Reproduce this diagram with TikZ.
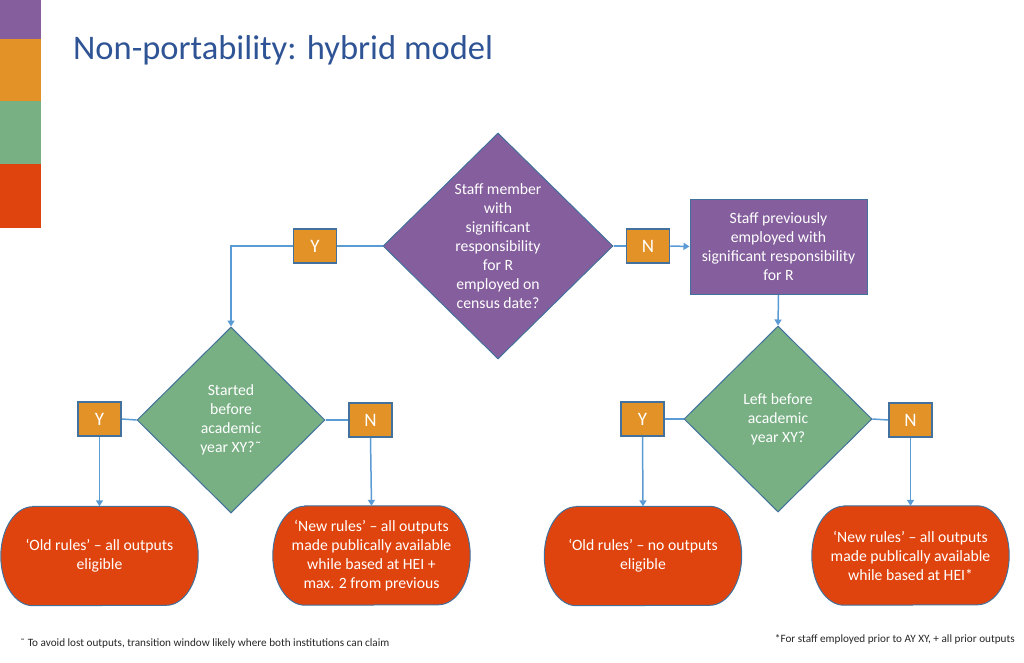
\documentclass[tikz,border=0pt]{standalone}
\usepackage{fontspec}
\setmainfont{Carlito}
\usetikzlibrary{shapes.geometric,arrows.meta,backgrounds}
\definecolor{cpurple}{RGB}{133,94,157}
\definecolor{corange}{RGB}{227,146,40}
\definecolor{cgreen}{RGB}{120,176,132}
\definecolor{cred}{RGB}{224,68,14}
\definecolor{cborder}{RGB}{65,113,156}
\definecolor{cline}{RGB}{91,155,213}
\definecolor{ctitle}{RGB}{47,84,150}
\definecolor{cfoot}{RGB}{38,38,38}
\begin{document}
\begin{tikzpicture}[x=1pt,y=-1pt,
  txt/.style={font=\fontsize{15.7}{19}\selectfont, text=white, align=center},
  decision/.style={diamond, draw=cborder, line width=1pt, inner sep=0pt, txt},
  yn/.style={draw=cborder, line width=1.5pt, fill=corange, minimum width=43pt, minimum height=34pt, inner sep=0pt, text=white, font=\fontsize{19}{21}\selectfont},
  conn/.style={draw=cline, line width=1.5pt},
  arr/.style={conn, -{Triangle[width=7pt,length=6pt]}},
  term/.style={minimum width=197pt, minimum height=99pt, inner sep=0pt, txt},
  termshape/.style={fill=cred, draw=cborder, line width=1pt},
  foot/.style={font=\fontsize{11.2}{13}\selectfont, text=cfoot, inner sep=0pt},
]
\useasboundingbox (0,0) rectangle (1024,663);
% colour bars
\fill[cpurple] (0,0) rectangle (41,39);
\fill[corange] (0,39) rectangle (41,101);
\fill[cgreen] (0,101) rectangle (41,164);
\fill[cred] (0,164) rectangle (41,228);
% title
\node[anchor=base west, inner sep=0pt, font=\fontsize{34.5}{40}\selectfont, text=ctitle] (title) at (73,60) {Non-portability: hybrid model};
% decisions
\node[decision, fill=cpurple, minimum width=230pt, minimum height=226pt] (d1) at (498,246)
  {Staff member\\with\\significant\\responsibility\\for R\\employed on\\census date?};
\node[decision, fill=cgreen, minimum width=188pt, minimum height=186pt] (d2) at (231,420)
  {Started\\before\\academic\\year XY?˜};
\node[decision, fill=cgreen, minimum width=188pt, minimum height=186pt] (d3) at (778,419)
  {Left before\\academic\\year XY?};
% process
\node[draw=cborder, line width=1pt, fill=cpurple, minimum width=177pt, minimum height=95pt, inner sep=0pt, txt] (r1) at (778.5,246.5)
  {Staff previously\\employed with\\significant responsibility\\for R};
% Y/N
\node[yn] (y1) at (315,246) {Y};
\node[yn] (n1) at (648,246) {N};
\node[yn] (y2) at (99.5,419) {Y};
\node[yn] (n2) at (370.5,420) {N};
\node[yn] (y3) at (642.5,419) {Y};
\node[yn] (n3) at (910.5,420) {N};
% terminators
\node[term] (t1) at (99.5,556) {‘Old rules’ – all outputs\\eligible};
\node[term] (t2) at (371.5,555.5) {‘New rules’ – all outputs\\made publically available\\while based at HEI +\\max. 2 from previous};
\node[term] (t3) at (643,556) {‘Old rules’ – no outputs\\eligible};
\node[term] (t4) at (910.5,555.5) {‘New rules’ – all outputs\\made publically available\\while based at HEI*};
\begin{scope}[on background layer]
\foreach \n in {t1,t2,t3,t4}{
  \path[termshape] ([xshift=32pt]\n.north west) -- ([xshift=-32pt]\n.north east)
    arc[start angle=90,end angle=-90,x radius=32pt,y radius=49.5pt]
    -- ([xshift=32pt]\n.south west)
    arc[start angle=270,end angle=90,x radius=32pt,y radius=49.5pt] -- cycle;
}
% connectors
\draw[conn] (d1.west) -- (y1.east);
\draw[arr] (y1.west) -| (d2.north);
\draw[conn] (d1.east) -- (n1.west);
\draw[arr] (n1.east) -- (r1.west);
\draw[arr] (r1.south) -- (d3.north);
\draw[conn] (d2.west) -- (y2.east);
\draw[conn] (d2.east) -- (n2.west);
\draw[conn] (d3.west) -- (y3.east);
\draw[conn] (d3.east) -- (n3.west);
\draw[arr] (y2.south) -- (t1.north);
\draw[arr] (n2.south) -- (t2.north);
\draw[arr] (y3.south) -- (t3.north);
\draw[arr] (n3.south) -- (t4.north);
\end{scope}
% footnotes
\node[foot, anchor=base west] (f1) at (20,646) {˜ To avoid lost outputs, transition window likely where both institutions can claim};
\node[foot, anchor=base east] (f2) at (1015,642) {*For staff employed prior to AY XY, + all prior outputs};
\end{tikzpicture}
\end{document}
